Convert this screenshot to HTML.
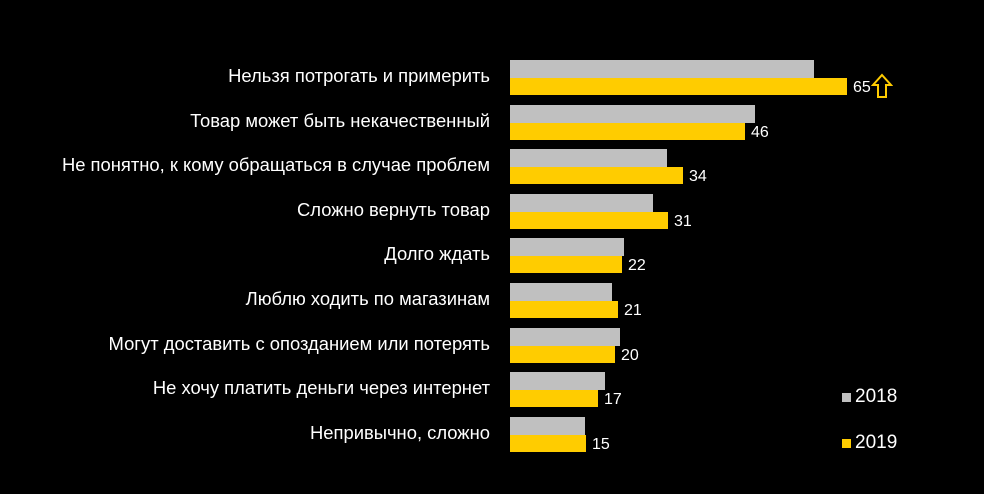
<!DOCTYPE html>
<html><head><meta charset="utf-8"><style>
body{margin:0;background:#000;width:984px;height:494px;overflow:hidden;position:relative;font-family:"Liberation Sans",Arial,sans-serif}
.l{position:absolute;right:494px;color:#fff;font-size:18.4px;white-space:nowrap;line-height:20px}
.g{position:absolute;left:510px;height:18px;background:#c0c0c0}
.y{position:absolute;left:510px;height:17px;background:#ffcc00}
.v{position:absolute;color:#fff;font-size:16px;line-height:17px}
.lg{position:absolute;color:#fff;font-size:19px;line-height:20px}
.sq{position:absolute;width:9px;height:9px}
</style></head><body>
<div id="c"></div>
<div class="sq" style="left:842px;top:393px;background:#c0c0c0"></div><div class="lg" style="left:855px;top:387px">2018</div>
<div class="sq" style="left:842px;top:439px;background:#ffcc00"></div><div class="lg" style="left:855px;top:433px">2019</div>
<svg style="position:absolute;left:871px;top:73px" width="22" height="26"><path d="M11 2 L20 12 L15 12 L15 24 L7 24 L7 12 L2 12 Z" fill="none" stroke="#ffcc00" stroke-width="2"/></svg>
<script>
var d=[["Нельзя потрогать и примерить",814,847,65],["Товар может быть некачественный",755,745,46],["Не понятно, к кому обращаться в случае проблем",667,683,34],["Сложно вернуть товар",653,668,31],["Долго ждать",624,622,22],["Люблю ходить по магазинам",612,618,21],["Могут доставить с опозданием или потерять",620,615,20],["Не хочу платить деньги через интернет",605,598,17],["Непривычно, сложно",585,586,15]];
var h="";d.forEach(function(r,i){var t=60+i*44.6;
h+='<div class="l" style="top:'+(t+6)+'px">'+r[0]+'</div>';
h+='<div class="g" style="top:'+t+'px;width:'+(r[1]-510)+'px"></div>';
h+='<div class="y" style="top:'+(t+18)+'px;width:'+(r[2]-510)+'px"></div>';
h+='<div class="v" style="top:'+(t+19)+'px;left:'+(r[2]+6)+'px">'+r[3]+'</div>';});
document.getElementById("c").innerHTML=h;
</script>
</body></html>
